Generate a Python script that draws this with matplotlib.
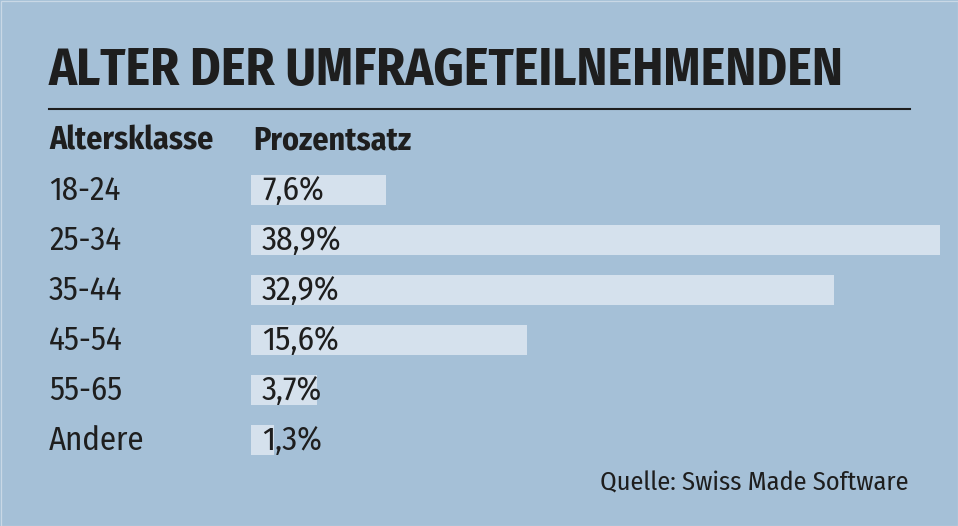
import matplotlib
matplotlib.use("Agg")
import matplotlib.pyplot as plt
from matplotlib.patches import Rectangle
from matplotlib.transforms import blended_transform_factory

title = "ALTER DER UMFRAGETEILNEHMENDEN"
col_headers = ["Altersklasse", "Prozentsatz"]
categories = ["18-24", "25-34", "35-44", "45-54", "55-65", "Andere"]
values = [7.6, 38.9, 32.9, 15.6, 3.7, 1.3]
value_labels = ["7,6%", "38,9%", "32,9%", "15,6%", "3,7%", "1,3%"]
source = "Quelle: Swiss Made Software"

BG = "#a5c0d7"
BAR = "#d5e1ed"
TXT = "#1e1e1e"
EDGE = "#c9d8e6"
FAM = ["Fira Sans Condensed", "DejaVu Sans"]

W, H = 958, 526
fig = plt.figure(figsize=(W / 100, H / 100), dpi=100, facecolor=BG)

# thin light frame around the graphic
fig.add_artist(Rectangle((0.5 / W, 0.5 / H), 1 - 1 / W, 1 - 1 / H,
                         transform=fig.transFigure, facecolor="none",
                         edgecolor=EDGE, linewidth=0.9))

# bar axes: x=0 at px 251, x=38.9 at px 940; rows centered at 190..440 px
x0, x1 = 251, 940
ytop, ybot = 165, 465
ax = fig.add_axes([x0 / W, (H - ybot) / H, (x1 - x0) / W, (ybot - ytop) / H])
ax.set_facecolor("none")
ypos = list(range(len(categories)))
ax.barh(ypos, values, height=0.6, color=BAR, edgecolor="none", left=0)
ax.set_xlim(0, max(values))
ax.set_ylim(len(categories) - 0.5, -0.5)
ax.axis("off")

tr = blended_transform_factory(fig.transFigure, ax.transData)
BASE_OFF = 0.2  # baseline sits 10 px below bar centre
for i, (c, lab) in enumerate(zip(categories, value_labels)):
    ax.text(49 / W, i + BASE_OFF, c, transform=tr, ha="left", va="baseline",
            fontsize=23.5, color=TXT, family=FAM)
    ax.text(262 / W, i + BASE_OFF, lab, transform=tr, ha="left", va="baseline",
            fontsize=24, color=TXT, family=FAM)

# header texts
fig.text(49 / W, 1 - 150 / H, col_headers[0], ha="left", va="baseline",
         fontsize=23, fontweight="bold", color=TXT, family=FAM)
fig.text(253 / W, 1 - 150 / H, col_headers[1], ha="left", va="baseline",
         fontsize=23, fontweight="bold", color=TXT, family=FAM)

# title
fig.text(49 / W, 1 - 85 / H, title, ha="left", va="baseline",
         fontsize=37.3, fontweight="bold", color=TXT, family=FAM)

# rule under title
fig.add_artist(plt.Line2D([49 / W, 910 / W], [1 - 108.5 / H, 1 - 108.5 / H],
                          color=TXT, linewidth=1.5, transform=fig.transFigure))

# source
fig.text(909 / W, 1 - 490 / H, source, ha="right", va="baseline",
         fontsize=19, color=TXT, family=FAM)

fig.savefig("out.png", dpi=100, facecolor=BG)
